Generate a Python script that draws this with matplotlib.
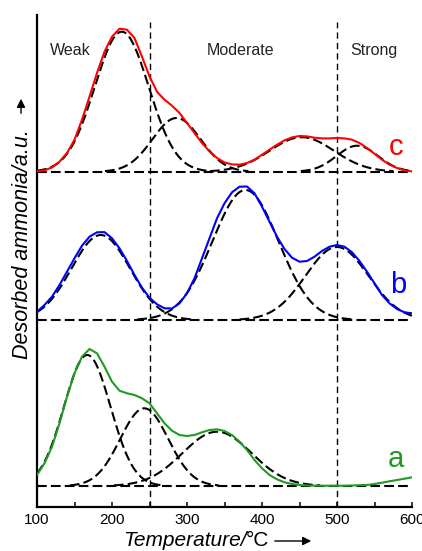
import numpy as np
import matplotlib
matplotlib.use("Agg")
import matplotlib.pyplot as plt

plt.rcParams['font.family'] = ['Liberation Sans', 'DejaVu Sans']
plt.rcParams['lines.scale_dashes'] = False

# ---------------- data ----------------
temps = list(range(100, 601, 10))

# measured NH3-TPD profiles (a.u., above each curve's own baseline)
profile_a = [11, 22.7, 39.3, 62.7, 89.3, 112.7, 129.3, 137, 132.7, 119.3,
             104.3, 95.3, 92.7, 91, 87.7, 82.7, 72.7, 62.7, 55.3, 51,
             50, 51, 53.7, 56, 56.7, 55, 51, 44.3, 36, 26,
             17.7, 11, 6.7, 3.7, 2, 1, 0.5, 0.3, 0.3, 0.3,
             0.3, 0.3, 0.5, 0.8, 1, 2, 3.3, 4.7, 6, 7.3, 8.7]
profile_b = [8.3, 15, 23.3, 35, 48.3, 61.7, 74.3, 83.3, 87.7, 87.9,
             81.7, 71.7, 59, 45, 32.3, 22.3, 15.7, 11.7, 11.5, 16.7,
             26.7, 41.7, 61.7, 81.7, 101.7, 116.7, 127.7, 133.3, 133.5, 126.7,
             113.3, 98.3, 83.3, 71, 62.3, 58.3, 59, 63.3, 69, 73.3,
             75, 73.3, 67.7, 59, 48.3, 36.7, 25, 16.7, 11, 7.7, 6.7]
profile_c = [0.3, 1.3, 4.3, 10, 18.7, 32, 52, 75, 98.7, 120,
             135, 143, 142, 133.7, 115, 95.3, 80, 72, 66, 58.7,
             48.7, 38.7, 28.7, 20.3, 13.7, 9.3, 7.3, 7, 8.7, 12,
             17, 22, 27, 31.3, 34.3, 35.7, 35.3, 34, 33.3, 33.3,
             33.7, 33.3, 32, 28.7, 23.7, 18, 12, 7, 3.7, 1.3, 0.3]

# Gaussian deconvolution components: centre (degC), height (a.u.), sigma (degC)
peaks_a_center = [167, 243, 340]
peaks_a_height = [131, 77.7, 54.3]
peaks_a_sigma = [31, 32, 46]

peaks_b_center = [185, 378, 500]
peaks_b_height = [85, 130, 73]
peaks_b_sigma = [39, 44, 42]

peaks_c_center = [213, 286, 453, 527]
peaks_c_height = [140, 53.7, 34.5, 26]
peaks_c_sigma = [36, 32, 43, 27.5]

boundaries = [250, 500]
region_names = ['Weak', 'Moderate', 'Strong']
curve_names = ['a', 'b', 'c']
curve_colors = ['#229922', '#0000ff', '#ff0000']

# ---------------- layout ----------------
W, H = 422, 551
fig = plt.figure(figsize=(W / 100, H / 100), dpi=100)
ax = fig.add_axes([37 / W, 1 - 507 / H, 375 / W, 492 / H])
ax.set_xlim(100, 600)
ax.set_ylim(0, 492)

offsets = [21, 187, 335.3]
profiles = [profile_a, profile_b, profile_c]
peak_sets = [(peaks_a_center, peaks_a_height, peaks_a_sigma),
             (peaks_b_center, peaks_b_height, peaks_b_sigma),
             (peaks_c_center, peaks_c_height, peaks_c_sigma)]

dash = (0, (7, 3))
tfine = np.linspace(100, 600, 801)

for off, prof, (cs, hs, ss), col, name in zip(offsets, profiles, peak_sets,
                                                curve_colors, curve_names):
    # baseline
    ax.plot([100, 600], [off, off], color='black', lw=1.5, ls=dash, zorder=2)
    # components
    for c, h, s in zip(cs, hs, ss):
        g = h * np.exp(-(tfine - c) ** 2 / (2 * s ** 2))
        g = np.where(g > 0.6, g, np.nan)
        ax.plot(tfine, off + g, color='black', lw=1.5, ls=dash, zorder=2)
    # measured profile
    ax.plot(temps, np.array(prof) + off, color=col, lw=1.5, zorder=3,
            solid_joinstyle='round')

# curve labels
ax.text(579, 39.7, 'a', color=curve_colors[0], fontsize=21, ha='center', va='baseline')
ax.text(581, 213.7, 'b', color=curve_colors[1], fontsize=21, ha='center', va='baseline')
ax.text(578.5, 352, 'c', color=curve_colors[2], fontsize=21, ha='center', va='baseline')

# region boundaries
for b in boundaries:
    ax.axvline(b, ymin=0, ymax=485 / 492, color='black', lw=1.0,
               ls=(0, (4.5, 3)), zorder=1)

for name, xc in zip(region_names, [144, 371, 549]):
    ax.text(xc, 452, name, fontsize=11.5, ha='center', va='baseline', color='#222222')

# axes styling
for sp in ['top', 'right']:
    ax.spines[sp].set_visible(False)
for sp in ['left', 'bottom']:
    ax.spines[sp].set_linewidth(1.6)
ax.set_yticks([])
ax.set_xticks([100, 200, 300, 400, 500, 600])
ax.set_xticks([150, 250, 350, 450, 550], minor=True)
ax.tick_params(axis='x', which='both', direction='in', length=3.6, width=1.1,
               labelsize=11, pad=4)

# axis labels
fig.text(247 / W, 1 - 546 / H, 'Temperature/', fontsize=15, style='italic',
         ha='right', va='baseline')
fig.text(246 / W, 1 - 546 / H, '°C', fontsize=15, ha='left', va='baseline')
fig.patches.append(matplotlib.patches.FancyArrowPatch(
    (272 / W, 1 - 541 / H), (314 / W, 1 - 541 / H), transform=fig.transFigure,
    arrowstyle='-|>,head_length=5,head_width=2.5', lw=1.0, color='black'))

fig.text(22.5 / W, 1 - 244 / H, 'Desorbed ammonia/a.u.', fontsize=15.5,
         style='italic', rotation=90, ha='center', va='center')
fig.patches.append(matplotlib.patches.FancyArrowPatch(
    (21 / W, 1 - 116 / H), (21 / W, 1 - 96 / H), transform=fig.transFigure,
    arrowstyle='-|>,head_length=5,head_width=2.5', lw=1.0, color='black'))

fig.savefig('out.png', dpi=100)
